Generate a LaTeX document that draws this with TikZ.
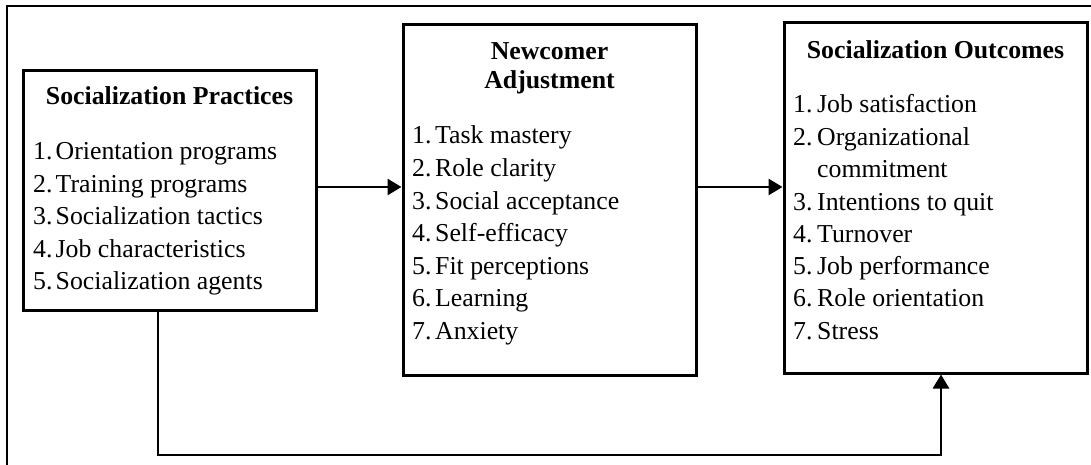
\documentclass[tikz,border=0pt]{standalone}
\usepackage{fontspec}
\setmainfont{Liberation Serif}
\usetikzlibrary{arrows.meta}
\begin{document}
\begin{tikzpicture}[x=1pt,y=-1pt,
  box/.style={draw,line width=3pt,inner sep=0pt},
  lbl/.style={anchor=base west,inner sep=0pt,font=\fontsize{25.8}{30}\selectfont},
  ttl/.style={anchor=base,inner sep=0pt,font=\fontsize{25.8}{30}\selectfont\bfseries},
  conn/.style={line width=2.8pt,-{Triangle[length=14pt,width=16pt]}}]
\useasboundingbox (0,0) rectangle (1091,465);
% outer frame
\draw[line width=2.8pt] (1092,6) -- (7,6) -- (7,467);
% boxes
\node[box,minimum width=293pt,minimum height=239pt] (prac) at (169.5,190.5) {};
\node[box,minimum width=293pt,minimum height=350pt] (adj) at (549.5,200) {};
\node[box,minimum width=303pt,minimum height=350pt] (out) at (935.5,198) {};
% titles
\node[ttl] (pt) at (169.5,105) {Socialization Practices};
\node[ttl] (at1) at (549.5,60) {Newcomer};
\node[ttl] (at2) at (549.5,89) {Adjustment};
\node[ttl] (ot) at (935.5,59) {Socialization Outcomes};
% items
\foreach \t [count=\i] in {Orientation programs,Training programs,Socialization tactics,Job characteristics,Socialization agents}
  \node[lbl] (p\i) at (33,{160+32.4*(\i-1)}) {\makebox[22.5pt][l]{\i.}\t};
\foreach \t [count=\i] in {Task mastery,Role clarity,Social acceptance,Self-efficacy,Fit perceptions,Learning,Anxiety}
  \node[lbl] (a\i) at (412,{144+32.5*(\i-1)}) {\makebox[23pt][l]{\i.}\t};
\node[lbl] (o1) at (793,113) {\makebox[24pt][l]{1.}Job satisfaction};
\node[lbl] (o2) at (793,145.5) {\makebox[24pt][l]{2.}Organizational};
\node[lbl] (o2b) at (817,178) {commitment};
\foreach \t [count=\i from 3] in {Intentions to quit,Turnover,Job performance,Role orientation,Stress}
  \node[lbl] (o\i) at (793,{210+32.3*(\i-3)}) {\makebox[24pt][l]{\i.}\t};
% connectors
\coordinate (ay) at (0,187);
\coordinate (bs) at (158,455);
\coordinate (be) at (941,455);
\draw[conn] (prac.east |- ay) -- (adj.west |- ay);
\draw[conn] (adj.east |- ay) -- (out.west |- ay);
\draw[conn] (prac.south -| bs) -- (bs) -- (be) -- (out.south -| be);
\end{tikzpicture}
\end{document}
